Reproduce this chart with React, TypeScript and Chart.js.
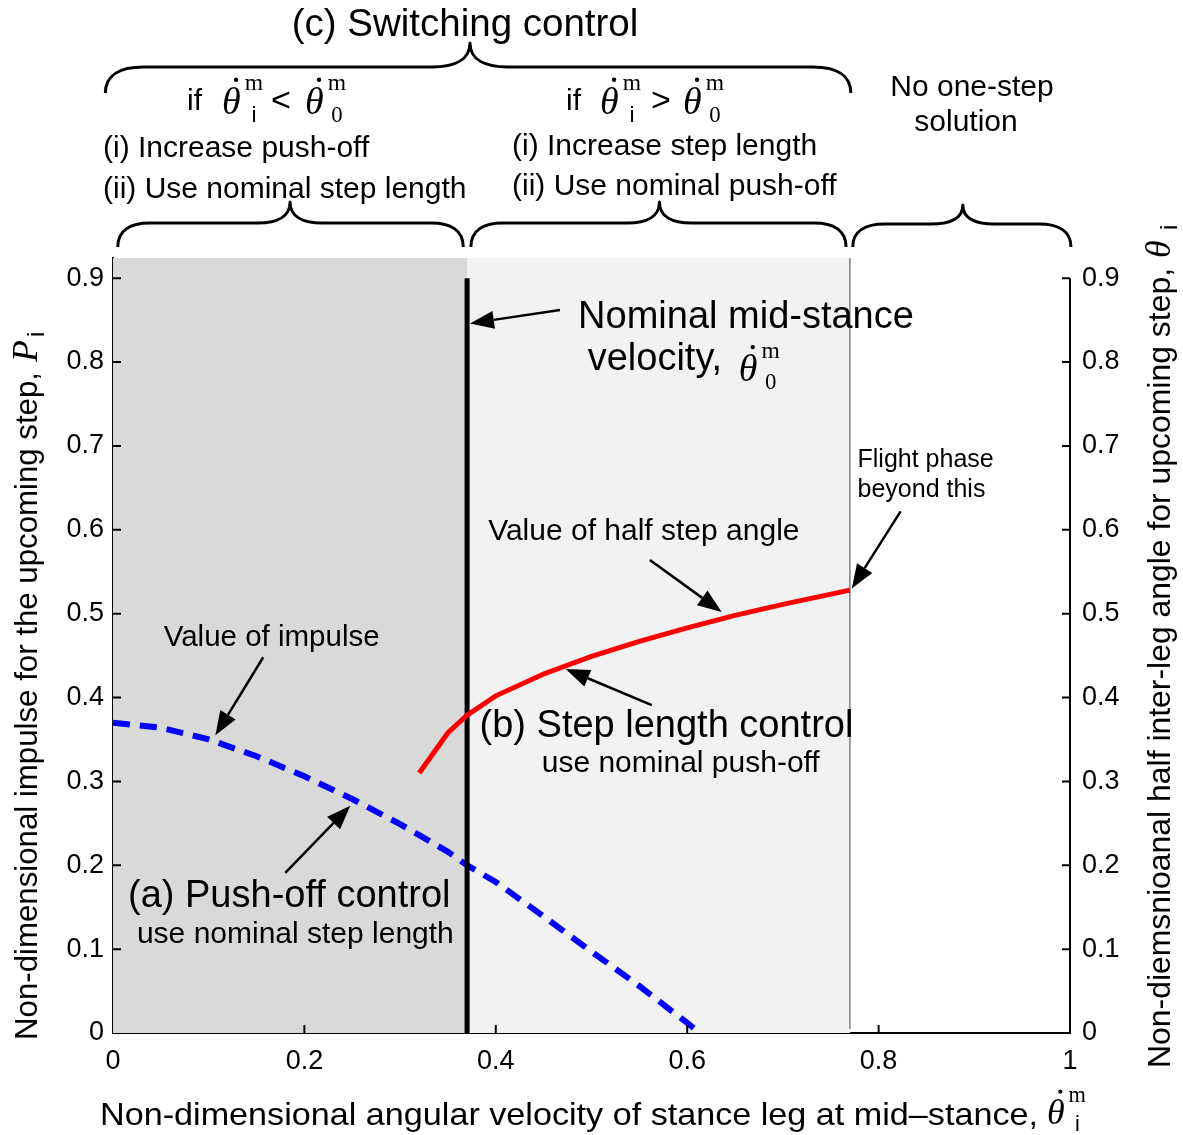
import React, { useEffect, useRef } from 'react';
import { Chart, registerables } from 'chart.js';

Chart.register(...registerables);

// ---------- data ----------
const X_TICKS = [0, 0.2, 0.4, 0.6, 0.8, 1];
const Y_TICKS = [0, 0.1, 0.2, 0.3, 0.4, 0.5, 0.6, 0.7, 0.8, 0.9];
const X_MIN = 0;
const X_MAX = 1;
const Y_MIN = 0;
const Y_MAX = 0.924;

// (a) push-off control: non-dimensional impulse vs mid-stance velocity
const IMPULSE_X = [0, 0.05, 0.1, 0.15, 0.2, 0.25, 0.3, 0.35, 0.37, 0.4, 0.45, 0.5, 0.55, 0.6, 0.613];
const IMPULSE_Y = [0.37, 0.364, 0.35, 0.33, 0.306, 0.279, 0.249, 0.216, 0.2, 0.18, 0.139, 0.097, 0.056, 0.012, 0.0];

// (b) step length control: half inter-leg angle vs mid-stance velocity
const ANGLE_X = [0.32, 0.35, 0.37, 0.4, 0.45, 0.5, 0.55, 0.6, 0.65, 0.7, 0.77];
const ANGLE_Y = [0.31, 0.358, 0.379, 0.402, 0.428, 0.449, 0.467, 0.483, 0.498, 0.511, 0.528];

// nominal mid-stance velocity line
const NOMINAL_VELOCITY = 0.37;
const NOMINAL_LINE_Y = [0, 0.9];

// region boundaries: push-off region | step-length region | no one-step solution
const REGION_EDGES = [0, 0.37, 0.77, 1];

// ---------- drawing helpers ----------
const SANS = '"Liberation Sans", Arial, Helvetica, sans-serif';
const SERIF = '"Liberation Serif", "DejaVu Serif", "Times New Roman", serif';

type TxtOpts = { align?: 'left' | 'center' | 'right'; family?: string; style?: string; width?: number };

function txt(ctx: CanvasRenderingContext2D, s: string, x: number, y: number, size: number, opts: TxtOpts = {}) {
  const { align = 'left', family = SANS, style = '', width } = opts;
  ctx.save();
  ctx.font = `${style} ${size}px ${family}`;
  ctx.fillStyle = '#000';
  ctx.textBaseline = 'alphabetic';
  ctx.textAlign = 'left';
  const w = ctx.measureText(s).width;
  const sx = width ? width / w : 1;
  const dw = w * sx;
  const x0 = align === 'center' ? x - dw / 2 : align === 'right' ? x - dw : x;
  ctx.translate(x0, y);
  ctx.scale(sx, 1);
  ctx.fillText(s, 0, 0);
  ctx.restore();
  return dw;
}

// theta with a dot, superscript and subscript
function thetaDot(
  ctx: CanvasRenderingContext2D,
  x: number,
  y: number,
  S: number,
  sup: string | null,
  sub: string | null,
  subFamily: string
) {
  const w = txt(ctx, 'θ', x, y, S, { family: SERIF, style: 'italic' });
  ctx.save();
  ctx.fillStyle = '#000';
  ctx.beginPath();
  ctx.arc(x + 0.37 * S, y - 0.9 * S, 0.058 * S, 0, Math.PI * 2);
  ctx.fill();
  ctx.restore();
  let cx = x + w + 0.1 * S;
  if (sup) {
    const sw = txt(ctx, sup, x + 0.6 * S, y - 0.62 * S, 0.62 * S, { family: SERIF });
    cx = x + 0.6 * S + sw / 2;
  }
  if (sub) {
    txt(ctx, sub, cx, y + 0.2 * S, 0.6 * S, { family: subFamily, align: 'center' });
  }
}

function arrow(ctx: CanvasRenderingContext2D, x1: number, y1: number, x2: number, y2: number) {
  const ang = Math.atan2(y2 - y1, x2 - x1);
  const L = 24;
  const W = 9;
  const bx = x2 - L * Math.cos(ang);
  const by = y2 - L * Math.sin(ang);
  ctx.save();
  ctx.strokeStyle = '#000';
  ctx.fillStyle = '#000';
  ctx.lineWidth = 2.5;
  ctx.beginPath();
  ctx.moveTo(x1, y1);
  ctx.lineTo(bx, by);
  ctx.stroke();
  ctx.beginPath();
  ctx.moveTo(x2, y2);
  ctx.lineTo(bx + W * Math.sin(ang), by - W * Math.cos(ang));
  ctx.lineTo(bx - W * Math.sin(ang), by + W * Math.cos(ang));
  ctx.closePath();
  ctx.fill();
  ctx.restore();
}

function brace(
  ctx: CanvasRenderingContext2D,
  x1: number,
  x2: number,
  cx: number,
  yEnd: number,
  yBody: number,
  yTip: number,
  r: number
) {
  ctx.save();
  ctx.strokeStyle = '#000';
  ctx.lineWidth = 3;
  ctx.lineJoin = 'round';
  ctx.beginPath();
  ctx.moveTo(x1, yEnd);
  ctx.bezierCurveTo(x1, yBody + (yEnd - yBody) * 0.3, x1 + r * 0.4, yBody, x1 + r, yBody);
  ctx.lineTo(cx - r, yBody);
  ctx.bezierCurveTo(cx - r * 0.4, yBody, cx, yBody - (yBody - yTip) * 0.3, cx, yTip);
  ctx.bezierCurveTo(cx, yBody - (yBody - yTip) * 0.3, cx + r * 0.4, yBody, cx + r, yBody);
  ctx.lineTo(x2 - r, yBody);
  ctx.bezierCurveTo(x2 - r * 0.4, yBody, x2, yBody + (yEnd - yBody) * 0.3, x2, yEnd);
  ctx.stroke();
  ctx.restore();
}

// ---------- plugins ----------
const shadingPlugin = {
  id: 'shading',
  beforeDatasetsDraw(chart: any) {
    const { ctx, chartArea, scales } = chart;
    const xs = scales.x;
    const colors = ['#d9d9d9', '#f2f2f2'];
    ctx.save();
    for (let i = 0; i < 2; i++) {
      const a = xs.getPixelForValue(REGION_EDGES[i]);
      const b = xs.getPixelForValue(REGION_EDGES[i + 1]);
      ctx.fillStyle = colors[i];
      ctx.fillRect(a, chartArea.top, b - a, chartArea.bottom - chartArea.top);
    }
    const lx = xs.getPixelForValue(REGION_EDGES[2]);
    ctx.strokeStyle = '#808080';
    ctx.lineWidth = 1.5;
    ctx.beginPath();
    ctx.moveTo(lx, chartArea.top);
    ctx.lineTo(lx, chartArea.bottom - 4);
    ctx.stroke();
    ctx.restore();
  },
};

const annotationPlugin = {
  id: 'annotations',
  afterDraw(chart: any) {
    const { ctx, chartArea, scales } = chart;
    const xs = scales.x;
    const ys = scales.y;
    const X = (v: number) => xs.getPixelForValue(v);
    const Y = (v: number) => ys.getPixelForValue(v);

    ctx.save();
    // axis ticks (inward)
    ctx.strokeStyle = '#000';
    ctx.lineWidth = 2;
    ctx.beginPath();
    Y_TICKS.forEach((v) => {
      if (v === 0) return;
      ctx.moveTo(chartArea.left, Y(v));
      ctx.lineTo(chartArea.left + 8, Y(v));
      ctx.moveTo(chartArea.right, Y(v));
      ctx.lineTo(chartArea.right - 8, Y(v));
    });
    X_TICKS.forEach((v) => {
      if (v === X_MIN || v === X_MAX) return;
      ctx.moveTo(X(v), chartArea.bottom);
      ctx.lineTo(X(v), chartArea.bottom - 8);
    });
    // right axis line
    ctx.moveTo(chartArea.right, chartArea.bottom);
    ctx.lineTo(chartArea.right, Y(Y_TICKS[Y_TICKS.length - 1]));
    ctx.stroke();
    ctx.restore();

    // ----- annotations inside the plot -----
    txt(ctx, 'Nominal mid-stance', X(0.486), Y(0.841), 38);
    const vw = txt(ctx, 'velocity, ', X(0.496), Y(0.79), 38);
    thetaDot(ctx, X(0.496) + vw + 6, Y(0.777), 38, 'm', '0', SERIF);
    arrow(ctx, X(0.467), Y(0.862), X(0.373), Y(0.846));

    txt(ctx, 'Value of half step angle', X(0.392), Y(0.588), 30);
    arrow(ctx, X(0.561), Y(0.564), X(0.636), Y(0.502));

    txt(ctx, 'Flight phase', X(0.778), Y(0.675), 25);
    txt(ctx, 'beyond this', X(0.778), Y(0.639), 25);
    arrow(ctx, X(0.823), Y(0.622), X(0.772), Y(0.53));

    txt(ctx, 'Value of impulse', X(0.053), Y(0.462), 29.5);
    arrow(ctx, X(0.157), Y(0.448), X(0.107), Y(0.355));

    txt(ctx, '(b) Step length control', X(0.383), Y(0.353), 38);
    txt(ctx, 'use nominal push-off', X(0.448), Y(0.311), 30);
    arrow(ctx, X(0.563), Y(0.391), X(0.473), Y(0.434));

    txt(ctx, '(a) Push-off control', X(0.0157), Y(0.15), 38);
    txt(ctx, 'use nominal step length', X(0.025), Y(0.107), 30);
    arrow(ctx, X(0.18), Y(0.191), X(0.248), Y(0.271));

    // ----- header above the plot -----
    txt(ctx, '(c) Switching control', 465, 36, 38.5, { align: 'center' });
    brace(ctx, X(-0.008), X(0.771), X(0.373), 93, 67, 43, 38);

    txt(ctx, 'if', 187, 110, 30);
    thetaDot(ctx, 222, 114, 38, 'm', 'i', SANS);
    txt(ctx, '<', 271, 111, 34);
    thetaDot(ctx, 305, 114, 38, 'm', '0', SERIF);
    txt(ctx, '(i) Increase push-off', 103, 157, 30);
    txt(ctx, '(ii) Use nominal step length', 103, 198, 30);

    txt(ctx, 'if', 566, 110, 30);
    thetaDot(ctx, 600, 114, 38, 'm', 'i', SANS);
    txt(ctx, '>', 651, 111, 34);
    thetaDot(ctx, 683, 114, 38, 'm', '0', SERIF);
    txt(ctx, '(i) Increase step length', 512, 155, 30);
    txt(ctx, '(ii) Use nominal push-off', 512, 195, 30);

    txt(ctx, 'No one-step', 972, 96, 30, { align: 'center' });
    txt(ctx, 'solution', 966, 131, 30, { align: 'center' });

    brace(ctx, X(0.005), X(0.366), X(0.185), 247, 223, 202, 32);
    brace(ctx, X(0.374), X(0.766), X(0.571), 247, 223, 202, 32);
    brace(ctx, X(0.773), X(1.001), X(0.888), 247, 224, 205, 32);

    // ----- axis titles -----
    // bottom
    txt(ctx, 'Non-dimensional angular velocity of stance leg at mid\u2013stance,', 100, 1125, 32, { width: 938 });
    thetaDot(ctx, 1047, 1124, 36, 'm', 'i', SANS);

    // left (rotated)
    ctx.save();
    ctx.translate(37, 1040);
    ctx.rotate(-Math.PI / 2);
    txt(ctx, 'Non-dimensional impulse for the upcoming step,', 0, 0, 31, { width: 668 });
    txt(ctx, 'P', 678, 0, 36, { family: SERIF, style: 'italic' });
    txt(ctx, 'i', 703, 7, 24);
    ctx.restore();

    // right (rotated)
    ctx.save();
    ctx.translate(1170, 1068);
    ctx.rotate(-Math.PI / 2);
    txt(ctx, 'Non-diemsnioanal half inter-leg angle for upcoming step,', 0, 0, 31, { width: 800 });
    txt(ctx, 'θ', 810, 0, 36, { family: SERIF, style: 'italic' });
    txt(ctx, 'i', 838, 7, 24);
    ctx.restore();
  },
};

const fmt = (v: any) => String(Math.round(Number(v) * 10) / 10);

export default function App() {
  const ref = useRef<HTMLCanvasElement | null>(null);

  useEffect(() => {
    document.body.style.margin = '0';
    document.body.style.overflow = 'hidden';
    const canvas = ref.current;
    if (!canvas) return;

    const tickFont = { family: SANS, size: 27 };

    const chart = new Chart(canvas, {
      type: 'line',
      data: {
        datasets: [
          {
            label: 'Half step angle',
            data: ANGLE_X.map((x, i) => ({ x, y: ANGLE_Y[i] })),
            borderColor: '#ff0000',
            borderWidth: 5,
            pointRadius: 0,
            tension: 0,
            fill: false,
          },
          {
            label: 'Nominal mid-stance velocity',
            data: NOMINAL_LINE_Y.map((y) => ({ x: NOMINAL_VELOCITY, y })),
            borderColor: '#000000',
            borderWidth: 5,
            pointRadius: 0,
            fill: false,
          },
          {
            label: 'Impulse',
            data: IMPULSE_X.map((x, i) => ({ x, y: IMPULSE_Y[i] })),
            borderColor: '#0000ff',
            borderWidth: 6,
            borderDash: [17, 10],
            borderCapStyle: 'butt',
            pointRadius: 0,
            tension: 0,
            fill: false,
          },
        ],
      },
      options: {
        responsive: false,
        animation: false,
        events: [],
        layout: { padding: { top: 258, left: 0, right: 0, bottom: 0 } },
        plugins: {
          legend: { display: false },
          tooltip: { enabled: false },
          title: { display: false },
        },
        scales: {
          x: {
            type: 'linear',
            min: X_MIN,
            max: X_MAX,
            afterBuildTicks: (s: any) => {
              s.ticks = X_TICKS.map((v) => ({ value: v }));
            },
            afterFit: (s: any) => {
              s.height = 102;
            },
            grid: { display: false, drawTicks: false },
            border: { display: true, color: '#000', width: 2 },
            ticks: { padding: 12, color: '#000', font: { family: SANS, size: 27 }, callback: fmt },
          },
          y: {
            type: 'linear',
            position: 'left',
            min: Y_MIN,
            max: Y_MAX,
            afterBuildTicks: (s: any) => {
              s.ticks = Y_TICKS.map((v) => ({ value: v }));
            },
            afterFit: (s: any) => {
              s.width = 113;
            },
            grid: { display: false, drawTicks: false },
            border: { display: true, color: '#000', width: 2 },
            ticks: { padding: 9, color: '#000', font: tickFont, callback: fmt },
          },
          y2: {
            type: 'linear',
            position: 'right',
            display: true,
            min: Y_MIN,
            max: Y_MAX,
            afterBuildTicks: (s: any) => {
              s.ticks = Y_TICKS.map((v) => ({ value: v }));
            },
            afterFit: (s: any) => {
              s.width = 113;
            },
            grid: { display: false, drawTicks: false },
            border: { display: false },
            ticks: { padding: 12, color: '#000', font: tickFont, callback: fmt },
          },
        },
      } as any,
      plugins: [shadingPlugin, annotationPlugin],
    });

    return () => {
      chart.destroy();
    };
  }, []);

  return (
    <div style={{ width: 1183, height: 1135, background: '#fff' }}>
      <canvas ref={ref} width={1183} height={1135} style={{ display: 'block', width: 1183, height: 1135 }} />
    </div>
  );
}
